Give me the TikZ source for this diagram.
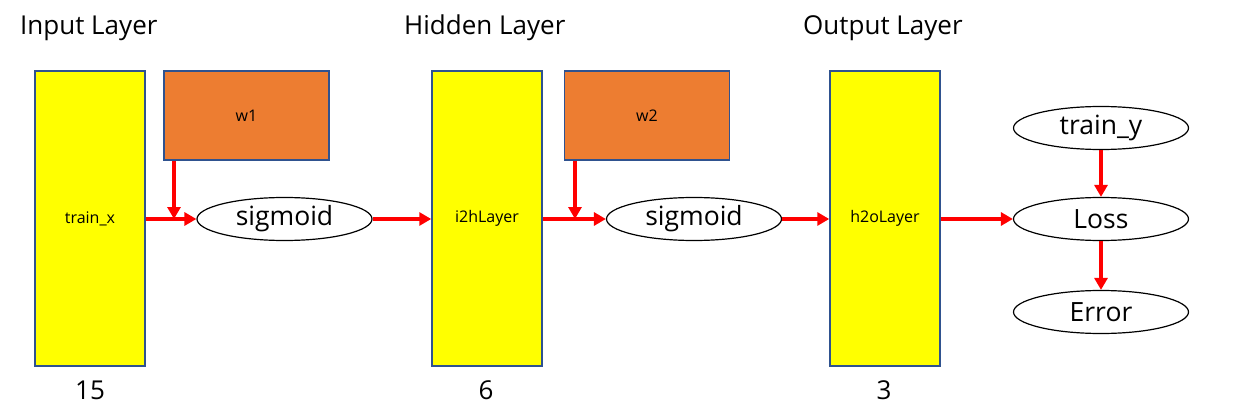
\documentclass[tikz,border=0pt]{standalone}
\usepackage{fontspec}
\setmainfont{Open Sans}
\usetikzlibrary{shapes.geometric,arrows.meta,calc}
\definecolor{boxborder}{HTML}{2F528F}
\definecolor{wfill}{HTML}{ED7D31}
\definecolor{layeryellow}{HTML}{FFFF00}
\definecolor{flowred}{HTML}{FF0000}
\begin{document}
\begin{tikzpicture}[x=1pt,y=-1pt,
  layerbox/.style={draw=boxborder,line width=1.5pt,fill=layeryellow,minimum width=110pt,minimum height=295pt,inner sep=0pt,font=\fontsize{16}{18}\selectfont},
  wbox/.style={draw=boxborder,line width=1.5pt,fill=wfill,minimum width=165pt,minimum height=89pt,inner sep=0pt,font=\fontsize{16}{18}\selectfont},
  oval/.style={draw,ellipse,line width=1.2pt,minimum width=175pt,minimum height=43pt,inner sep=0pt,font=\fontsize{26.5}{30}\selectfont},
  title/.style={font=\fontsize{26}{30}\selectfont,inner sep=0pt},
  num/.style={font=\fontsize{26}{30}\selectfont,inner sep=0pt},
  flow/.style={draw=flowred,line width=4pt,-{Triangle[length=12pt,width=13pt]}}
]
\useasboundingbox (0,0) rectangle (1243,412);
\node[layerbox] (b1) at (90,218.5) {train\_x};
\node[layerbox] (b2) at (487,218.5) {i2hLayer};
\node[layerbox] (b3) at (885,218.5) {h2oLayer};
\node[wbox] (w1) at (246.5,115.5) {w1};
\node[wbox] (w2) at (647,115.5) {w2};
\node[oval] (s1) at (284.5,219) {sigmoid};
\node[oval] (s2) at (694,219) {sigmoid};
\node[oval] (ty) at (1101,128) {train\_y};
\node[oval] (loss) at (1101,219) {Loss};
\node[oval] (err) at (1101,312) {Error};
\node[title,anchor=west] (t1) at (20,28) {Input Layer};
\node[title,anchor=west] (t2) at (404,28) {Hidden Layer};
\node[title,anchor=west] (t3) at (803,28) {Output Layer};
\node[num] (n1) at (90,390) {15};
\node[num] (n2) at (486,390) {6};
\node[num] (n3) at (884,390) {3};
\coordinate (j1) at (174,219);
\coordinate (j2) at (575,219);
\draw[flow] (b1.east |- s1) -- (s1.west);
\draw[flow] (w1.south -| j1) -- (j1);
\draw[flow] (s1.east) -- (b2.west |- s1);
\draw[flow] (b2.east |- s2) -- (s2.west);
\draw[flow] (w2.south -| j2) -- (j2);
\draw[flow] (s2.east) -- (b3.west |- s2);
\draw[flow] (b3.east |- loss) -- (loss.west);
\draw[flow] (ty.south) -- (loss.north);
\draw[flow] (loss.south) -- (err.north);
\end{tikzpicture}
\end{document}
